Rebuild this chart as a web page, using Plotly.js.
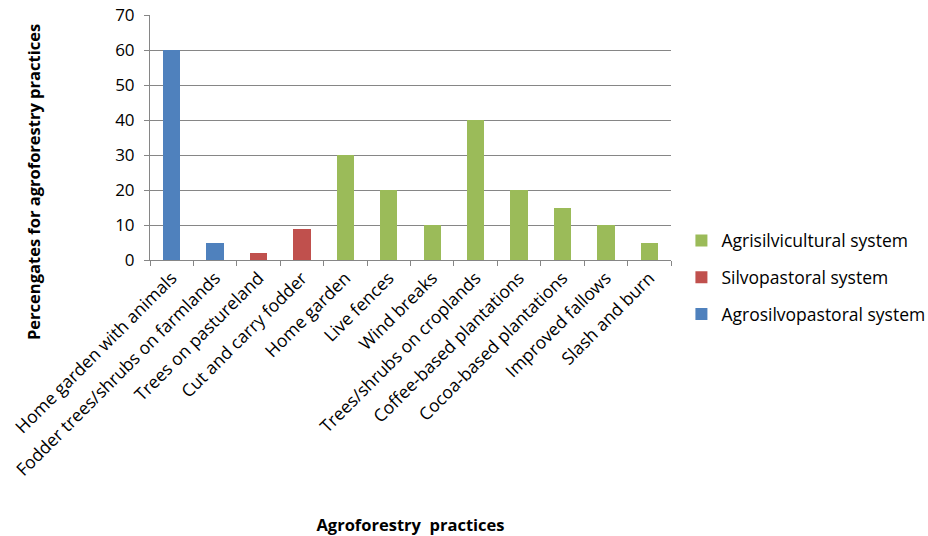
<!DOCTYPE html>
<html><head><meta charset="utf-8">
<script src="https://cdn.plot.ly/plotly-3.0.1.min.js"></script>
<style>body{margin:0;background:#fff}#c{width:928px;height:536px}</style>
</head><body><div id="c"></div>
<script>
const categories = ["Home garden with animals","Fodder trees/shrubs on farmlands","Trees on pastureland","Cut and carry fodder","Home garden","Live fences","Wind breaks","Trees/shrubs on croplands","Coffee-based plantations","Cocoa-based plantations","Improved fallows","Slash and burn"];
const agrosilvopastoral = [60,5,null,null,null,null,null,null,null,null,null,null];
const silvopastoral = [null,null,2,9,null,null,null,null,null,null,null,null];
const agrisilvicultural = [null,null,null,null,30,20,10,40,20,15,10,5];
const yTicks = [0,10,20,30,40,50,60,70];

const font = "Open Sans, Liberation Sans, sans-serif";
const traces = [
  {type:'bar', name:'Agrisilvicultural system', x:categories, y:agrisilvicultural, marker:{color:'#9BBB59'}, legendgroup:'c'},
  {type:'bar', name:'Silvopastoral system', x:categories, y:silvopastoral, marker:{color:'#C0504D'}, legendgroup:'b'},
  {type:'bar', name:'Agrosilvopastoral system', x:categories, y:agrosilvopastoral, marker:{color:'#4F81BD'}, legendgroup:'a'}
];
const layout = {
  width:928, height:536,
  margin:{l:150, r:257, t:15, b:276, autoexpand:false},
  paper_bgcolor:'#fff', plot_bgcolor:'#fff',
  barmode:'stack', bargap:0.6,
  font:{family:font, size:14, color:'#000'},
  showlegend:true,
  legend:{x:1.02, y:0.153, xanchor:'left', yanchor:'top', traceorder:'grouped', tracegroupgap:11, font:{size:17.5, family:font}, itemwidth:30},
  xaxis:{type:'category', tickangle:-45, showgrid:false, showline:true, linecolor:'#868686', ticks:'outside', tickson:'boundaries', ticklen:5, tickcolor:'#868686', tickfont:{size:17.5, family:font},
    title:{text:'<b>Agroforestry  practices</b>', font:{size:16.5, family:font}, standoff:45}, automargin:false},
  yaxis:{range:[0,70], tickvals:yTicks, showgrid:true, gridcolor:'#868686', gridwidth:1, showline:true, linecolor:'#868686', ticks:'outside', ticklen:5, tickcolor:'#868686', tickfont:{size:17, family:font},
    ticklabelstandoff:6, automargin:false, zeroline:false},
  annotations:[
    {text:'<b>Percengates for agroforestry practices</b>', xref:'paper', yref:'paper', x:(33-150)/521, y:(260-182)/245, textangle:-90, showarrow:false, xanchor:'center', yanchor:'middle', font:{size:16.5, family:font}}
  ]
};
Plotly.newPlot('c', traces, layout, {displayModeBar:false, staticPlot:true});
</script></body></html>
